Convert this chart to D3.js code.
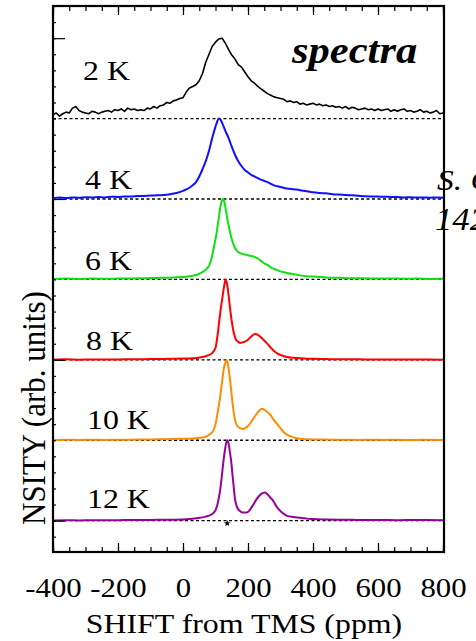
<!DOCTYPE html>
<html><head><meta charset="utf-8">
<script src="https://cdn.jsdelivr.net/npm/d3@7"></script>
<style>
html,body{margin:0;padding:0;background:#fff;overflow:hidden}
text{font-family:"Liberation Serif","Times New Roman",serif;fill:#000}
</style></head>
<body><svg id="chart" width="476" height="641"></svg>
<script>
// ---------- data ----------
const temperatures = ["2 K","4 K","6 K","8 K","10 K","12 K"];
const offsets = [5,4,3,2,1,0];
const colors = ["#000000","#1010ff","#10e010","#ff0000","#ff8c00","#990099"];
const xTickLabels = [-400,-200,0,200,400,600,800];

const spec2K = [[-400,.05],[-390,.07],[-380,.03],[-370,.06],[-360,.08],[-350,.07],[-340,.13],[-330,.15],[-320,.10],[-310,.08],
[-300,.07],[-290,.06],[-280,.09],[-270,.08],[-260,.06],[-250,.08],[-240,.09],[-230,.10],[-220,.08],[-210,.11],
[-200,.10],[-190,.12],[-180,.09],[-170,.13],[-160,.11],[-150,.12],[-140,.10],[-130,.11],[-120,.10],[-110,.13],
[-100,.12],[-90,.15],[-80,.13],[-70,.16],[-60,.17],[-50,.20],[-40,.19],[-30,.22],[-20,.23],[-10,.25],
[0,.26],[10,.33],[20,.38],[30,.40],[40,.42],[50,.47],[60,.56],[70,.70],[80,.80],[90,.90],
[100,.95],[110,.99],[120,1.0],[130,.94],[140,.86],[150,.79],[160,.74],[170,.67],[180,.64],[190,.58],
[200,.52],[210,.47],[220,.44],[230,.40],[240,.37],[250,.34],[260,.31],[270,.29],[280,.27],[290,.26],
[300,.25],[310,.24],[320,.21],[330,.22],[340,.20],[350,.21],[360,.18],[370,.19],[380,.17],[390,.18],
[400,.19],[410,.17],[420,.18],[430,.16],[440,.17],[450,.15],[460,.16],[470,.14],[480,.15],[490,.13],
[500,.15],[510,.12],[520,.14],[530,.13],[540,.11],[550,.12],[560,.13],[570,.11],[580,.12],[590,.10],
[600,.12],[610,.10],[620,.11],[630,.12],[640,.09],[650,.11],[660,.09],[670,.11],[680,.12],[690,.09],
[700,.10],[710,.08],[720,.09],[730,.11],[740,.08],[750,.09],[760,.07],[770,.08],[780,.10],[790,.06],[800,.07]];

const spec4K = [[-400,.01],[-380,.02],[-360,.012],[-340,.02],[-320,.015],[-300,.022],[-280,.02],[-260,.025],[-240,.02],[-220,.028],
[-200,.025],[-180,.032],[-160,.03],[-140,.036],[-120,.038],[-100,.042],[-80,.045],[-60,.05],[-40,.06],[-20,.075],
[0,.10],[10,.12],[20,.14],[30,.17],[40,.21],[50,.28],[60,.37],[70,.47],[80,.60],[90,.76],
[100,.90],[105,.96],[110,1.0],[115,.99],[120,.95],[125,.90],[130,.85],[140,.76],[150,.65],[160,.55],
[170,.47],[180,.41],[190,.36],[200,.33],[210,.30],[220,.28],[230,.26],[240,.24],[260,.21],[280,.17],
[300,.15],[320,.13],[340,.12],[360,.11],[380,.095],[400,.085],[420,.075],[440,.07],[460,.06],[480,.055],
[500,.05],[520,.045],[540,.04],[560,.035],[580,.032],[600,.03],[620,.028],[640,.025],[660,.024],[680,.02],
[700,.022],[720,.018],[740,.02],[760,.016],[780,.018],[800,.015]];

const spec6K = [[-400,.005],[-360,.01],[-320,.006],[-280,.01],[-240,.008],[-200,.01],[-160,.012],[-120,.014],[-80,.018],[-40,.022],
[0,.03],[20,.04],[40,.055],[50,.07],[60,.09],[70,.12],[75,.14],[80,.17],[85,.22],[90,.30],
[95,.40],[100,.50],[105,.62],[110,.76],[115,.90],[120,.98],[123,1.0],[127,.97],[132,.86],[137,.74],
[142,.64],[148,.53],[154,.45],[160,.39],[170,.34],[180,.32],[190,.31],[200,.30],[210,.29],[220,.28],
[230,.26],[240,.23],[250,.20],[260,.18],[270,.15],[280,.13],[290,.115],[300,.10],[310,.09],[320,.08],
[340,.065],[360,.05],[380,.04],[400,.035],[440,.025],[480,.02],[520,.015],[560,.014],[600,.01],[640,.012],
[680,.008],[720,.01],[760,.006],[800,.008]];

const spec8K = [[-400,.002],[-360,.006],[-320,.002],[-280,.005],[-240,.003],[-200,.005],[-160,.006],[-120,.008],[-80,.01],[-40,.012],
[0,.015],[30,.02],[52,.03],[70,.045],[89,.08],[100,.15],[104,.24],[108,.36],[112,.50],[116,.63],
[120,.74],[124,.85],[128,.95],[131,1.0],[134,.97],[138,.88],[142,.74],[146,.60],[150,.48],[154,.38],
[158,.31],[162,.26],[168,.23],[175,.21],[185,.22],[197,.24],[210,.29],[222,.32],[230,.31],[237,.29],
[245,.26],[255,.22],[268,.16],[280,.11],[290,.08],[300,.06],[308,.05],[320,.035],[340,.025],[360,.02],
[400,.012],[440,.009],[480,.006],[520,.007],[560,.004],[600,.005],[660,.003],[720,.004],[800,.002]];

const spec10K = [[-400,.003],[-360,.006],[-320,.004],[-280,.006],[-240,.004],[-200,.006],[-160,.007],[-120,.009],[-80,.011],[-40,.014],
[0,.018],[30,.022],[52,.03],[70,.045],[85,.08],[92,.11],[100,.20],[106,.33],[114,.53],[120,.72],
[126,.90],[130,.96],[134,1.0],[138,.95],[145,.74],[150,.55],[155,.38],[160,.25],[167,.18],[175,.15],
[185,.14],[195,.16],[205,.20],[215,.26],[225,.32],[235,.37],[243,.39],[250,.38],[260,.35],[268,.32],
[278,.26],[288,.21],[298,.16],[310,.10],[320,.07],[329,.05],[350,.025],[381,.012],[420,.009],[460,.006],
[500,.007],[540,.004],[580,.006],[620,.004],[660,.005],[700,.003],[740,.005],[800,.003]];

const spec12K = [[-400,.003],[-360,.005],[-320,.003],[-280,.006],[-240,.004],[-200,.006],[-160,.007],[-120,.008],[-80,.01],[-40,.012],
[0,.015],[42,.03],[70,.05],[85,.07],[92,.09],[100,.13],[106,.20],[110,.28],[114,.37],[118,.50],
[122,.65],[126,.79],[130,.90],[133,.97],[136,1.0],[139,.98],[142,.92],[145,.83],[148,.75],[152,.58],
[156,.42],[160,.27],[165,.18],[170,.14],[175,.12],[185,.10],[196,.10],[205,.13],[215,.19],[227,.27],
[240,.33],[252,.35],[262,.32],[270,.28],[277,.25],[287,.18],[297,.13],[308,.09],[320,.06],[340,.045],
[360,.035],[380,.025],[400,.02],[440,.015],[480,.012],[520,.01],[560,.008],[600,.009],[660,.006],[720,.007],[800,.005]];

const spectra = [spec2K, spec4K, spec6K, spec8K, spec10K, spec12K];
const marker = [[136,-0.035]];

// ---------- layout ----------
const L = 53, R = 443, T = 6, B = 552;
const svg = d3.select("#chart");
const x = d3.scaleLinear().domain([-400,800]).range([L,R]);
const y = d3.scaleLinear().domain([-0.39,6.4]).range([B,T]);

svg.append("defs").append("clipPath").attr("id","clip")
  .append("rect").attr("x",L).attr("y",T).attr("width",R-L).attr("height",B-T);

// dashed baselines
const g = svg.append("g").attr("clip-path","url(#clip)");
g.selectAll("line.base").data(offsets).join("line").attr("class","base")
  .attr("x1",x(-400)).attr("x2",x(800))
  .attr("y1",d=>y(d)).attr("y2",d=>y(d))
  .attr("stroke","#000").attr("stroke-width",1.3).attr("stroke-dasharray","3,2.5");

// curves
spectra.forEach((s,i)=>{
  const line = d3.line().x(d=>x(d[0])).y(d=>y(d[1]+offsets[i]))
    .curve(i===0 ? d3.curveLinear : d3.curveMonotoneX);
  g.append("path").datum(s).attr("d",line).attr("fill","none")
    .attr("stroke",colors[i]).attr("stroke-width",i===0?1.6:2).attr("stroke-linejoin","round");
});

// small marker
g.selectAll("path.mk").data(marker).join("path").attr("class","mk")
  .attr("transform",d=>`translate(${x(d[0])},${y(d[1])})`)
  .attr("d",d3.symbol(d3.symbolStar,14)).attr("fill","#000");

// axes
function clean(sel){ sel.select(".domain").remove(); sel.selectAll("line").attr("stroke","#000").attr("stroke-width",1.2); }
const minorX = d3.range(-400,801,50);
const majorX = xTickLabels;
svg.append("g").attr("transform",`translate(0,${B})`)
  .call(d3.axisBottom(x).tickValues(minorX).tickSize(-5).tickFormat("")).call(clean);
const bx = svg.append("g").attr("transform",`translate(0,${B})`)
  .call(d3.axisBottom(x).tickValues(majorX).tickSize(-9).tickFormat(d=>d));
clean(bx);
bx.selectAll("text").attr("y",45).attr("dy",null).attr("font-size",27)
  .attr("font-family","Liberation Serif, Times New Roman, serif").attr("fill","#000")
  .attr("transform","scale(1.14,1)");
svg.append("g").attr("transform",`translate(0,${T})`)
  .call(d3.axisTop(x).tickValues(minorX).tickSize(-5).tickFormat("")).call(clean);
svg.append("g").attr("transform",`translate(0,${T})`)
  .call(d3.axisTop(x).tickValues(majorX).tickSize(-9).tickFormat("")).call(clean);

const minorY = d3.range(-0.2,6.41,0.2);
svg.append("g").attr("transform",`translate(${L},0)`)
  .call(d3.axisLeft(y).tickValues(minorY).tickSize(-3).tickFormat("")).call(clean);
svg.append("g").attr("transform",`translate(${L},0)`)
  .call(d3.axisLeft(y).tickValues([0,2,4,6]).tickSize(-12).tickFormat("")).call(clean);

// frame
svg.append("rect").attr("x",L).attr("y",T).attr("width",R-L+1).attr("height",B-T)
  .attr("fill","none").attr("stroke","#000").attr("stroke-width",2.2);

// temperature labels
const labelPos = [[83,80],[85,189],[85,270],[86,350],[87,429],[87,508]];
svg.selectAll("text.temp").data(temperatures).join("text").attr("class","temp")
  .attr("transform",(d,i)=>`translate(${labelPos[i][0]},${labelPos[i][1]}) scale(1.18,1)`)
  .attr("font-size",27).text(d=>d);

// title
svg.append("text").attr("transform","translate(292,63) scale(1.12,1)")
  .attr("font-size",38).attr("font-weight","bold").attr("font-style","italic").text("spectra");

// axis labels
svg.append("text").attr("transform","translate(244,633) scale(1.18,1)")
  .attr("text-anchor","middle").attr("font-size",27).text("SHIFT from TMS (ppm)");
svg.append("text").attr("transform","translate(45,525) rotate(-90) scale(1,1.12)")
  .attr("font-size",31).text("NSITY (arb. units)");

// cropped side text
svg.append("text").attr("transform","translate(437,190) scale(1.12,1)")
  .attr("font-size",30).attr("font-style","italic").text("S. C");
svg.append("text").attr("transform","translate(435,230) scale(1.12,1)")
  .attr("font-size",31).attr("font-style","italic").text("142");
</script></body></html>
